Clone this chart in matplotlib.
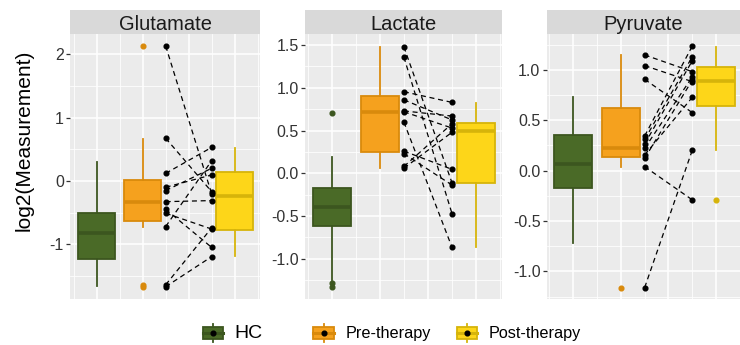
import matplotlib.pyplot as plt
from matplotlib.patches import Patch, Rectangle
from matplotlib.lines import Line2D
from matplotlib.legend_handler import HandlerBase

plt.rcParams['font.family'] = ['Liberation Sans', 'DejaVu Sans']
plt.rcParams['axes.unicode_minus'] = False

# ---- data ----
metabolites = ["Glutamate", "Lactate", "Pyruvate"]
groups = ["HC", "Pre-therapy", "Post-therapy"]
fill_colors = ["#4a6a27", "#f5a11e", "#fdd619"]
edge_colors = ["#3c561f", "#d98a0c", "#d6b40a"]

# box stats per group: whislo, q1, median, q3, whishi
glu_box = [[-1.66, -1.23, -0.826, -0.51, 0.295],
           [-0.72, -0.626, -0.337, 0.01, 0.66],
           [-1.19, -0.77, -0.23, 0.137, 0.516]]
glu_fliers = [[], [2.13, -1.64, -1.67], []]

lac_box = [[-1.25, -0.617, -0.39, -0.176, 0.19],
           [0.06, 0.25, 0.72, 0.91, 1.475],
           [-0.865, -0.113, 0.49, 0.59, 0.82]]
lac_fliers = [[0.70, -1.28, -1.33], [], []]

pyr_box = [[-0.715, -0.175, 0.066, 0.354, 0.73],
           [0.04, 0.132, 0.222, 0.626, 1.15],
           [0.205, 0.642, 0.894, 1.03, 1.23]]
pyr_fliers = [[], [-1.16], [-0.29]]

# paired patients (pre -> post)
glu_pre = [2.13, 0.674, 0.12, -0.10, -0.153, -0.327, -0.447, -0.51, -0.72, -1.64, -1.67]
glu_post = [-0.205, -0.17, 0.53, 0.095, 0.20, -0.31, -1.05, -0.76, 0.32, -0.74, -1.195]
lac_pre = [1.48, 1.36, 0.955, 0.86, 0.73, 0.72, 0.6, 0.26, 0.23, 0.08, 0.06]
lac_post = [-0.11, -0.47, 0.83, 0.625, 0.67, 0.53, -0.865, 0.047, -0.137, 0.58, 0.48]
pyr_pre = [1.149, 1.043, 0.907, 0.345, 0.31, 0.265, 0.222, 0.156, 0.123, 0.04, -1.16]
pyr_post = [0.983, 0.884, 0.576, 1.238, 1.132, 1.092, 0.933, 0.729, 0.90, -0.29, 0.205]

# y ticks
glu_ticks = [-1, 0, 1, 2]
glu_ticklabels = ["-1", "0", "1", "2"]
half_ticks = [-1.0, -0.5, 0.0, 0.5, 1.0, 1.5]
half_ticklabels = ["-1.0", "-0.5", "0.0", "0.5", "1.0", "1.5"]

panels = [
    dict(name="Glutamate", box=glu_box, fliers=glu_fliers, pre=glu_pre, post=glu_post,
         ylim=(-1.864, 2.32), xlim=(0.42, 4.55), ticks=glu_ticks, labels=glu_ticklabels,
         rect=(70, 190)),
    dict(name="Lactate", box=lac_box, fliers=lac_fliers, pre=lac_pre, post=lac_post,
         ylim=(-1.47, 1.63), xlim=(0.444, 4.54), ticks=half_ticks, labels=half_ticklabels,
         rect=(305, 197)),
    dict(name="Pyruvate", box=pyr_box, fliers=pyr_fliers, pre=pyr_pre, post=pyr_post,
         ylim=(-1.274, 1.357), xlim=(0.445, 4.48), ticks=half_ticks[:-1], labels=half_ticklabels[:-1],
         rect=(546.7, 193.3)),
]

W, H = 740, 345
fig = plt.figure(figsize=(W / 100, H / 100), dpi=100)

box_pos = [1, 2, 4]
pair_x = [2.5, 3.5]
panel_top, panel_bot, strip_px = 34, 299, 24

for p in panels:
    left, width = p["rect"]
    ax = fig.add_axes([left / W, (H - panel_bot) / H, width / W, (panel_bot - panel_top) / H])
    ax.set_facecolor("#EBEBEB")
    for s in ax.spines.values():
        s.set_visible(False)
    ax.set_xlim(p["xlim"])
    ax.set_ylim(p["ylim"])

    # grid
    y0, y1 = p["ylim"]
    step = p["ticks"][1] - p["ticks"][0]
    minor_y = [t + step / 2 for t in [p["ticks"][0] - step] + p["ticks"]]
    ax.set_yticks(p["ticks"])
    ax.set_yticklabels(p["labels"])
    ax.set_yticks([m for m in minor_y if y0 < m < y1], minor=True)
    ax.set_xticks([1, 2, 3, 4])
    ax.set_xticks([0.5, 1.5, 2.5, 3.5, 4.5], minor=True)
    ax.grid(which="major", color="white", lw=1.1)
    ax.grid(which="minor", color="white", lw=0.55)
    ax.set_axisbelow(True)
    ax.tick_params(axis="x", which="both", length=0, labelbottom=False)
    ax.tick_params(axis="y", which="minor", length=0)
    ax.tick_params(axis="y", which="major", length=3, width=0.9, color="#333333",
                   labelsize=11.5, labelcolor="#333333", pad=1.5)

    # boxes
    for i in range(3):
        wl, q1, med, q3, wh = p["box"][i]
        stats = [dict(whislo=wl, q1=q1, med=med, q3=q3, whishi=wh, fliers=p["fliers"][i])]
        ax.bxp(stats, positions=[box_pos[i]], widths=0.8, patch_artist=True, showcaps=False,
               boxprops=dict(facecolor=fill_colors[i], edgecolor=edge_colors[i], lw=1.3),
               medianprops=dict(color=edge_colors[i], lw=2.6, solid_capstyle="butt"),
               whiskerprops=dict(color=edge_colors[i], lw=1.3),
               flierprops=dict(marker="o", markerfacecolor=edge_colors[i],
                               markeredgecolor=edge_colors[i], markersize=3.4))

    # paired lines
    for a, b in zip(p["pre"], p["post"]):
        ax.plot(pair_x, [a, b], color="black", lw=0.9, ls=(0, (4, 3)), zorder=4)
    ax.plot([pair_x[0]] * len(p["pre"]), p["pre"], "o", color="black", ms=3.4, zorder=5)
    ax.plot([pair_x[1]] * len(p["post"]), p["post"], "o", color="black", ms=3.4, zorder=5)
    ax.set_xticks([1, 2, 3, 4])

    # facet strip
    sh = strip_px / (panel_bot - panel_top)
    ax.add_patch(Rectangle((0, 1), 1, sh, transform=ax.transAxes, facecolor="#D9D9D9",
                           edgecolor="none", clip_on=False))
    ax.text(0.5, 1 + sh / 2, p["name"], transform=ax.transAxes, ha="center",
            va="center_baseline", fontsize=14.5, color="#1A1A1A")

fig.text(24 / W, 1 - 140 / H, "log2(Measurement)", rotation=90, ha="center", va="center",
         fontsize=15, color="black")


class BoxKey(HandlerBase):
    def create_artists(self, legend, orig, xd, yd, w, h, fs, trans):
        fc = orig.get_facecolor()
        ec = orig.get_edgecolor()
        cx = -xd + w / 2
        cy = -yd + h / 2
        bh = h * 0.64
        whisk = Line2D([cx, cx], [-yd, -yd + h], color=ec, lw=1.3, transform=trans)
        box = Rectangle((-xd, cy - bh / 2), w, bh, facecolor=fc, edgecolor=ec, lw=1.3,
                        transform=trans)
        med = Line2D([-xd, -xd + w], [cy, cy], color=ec, lw=2.2, transform=trans)
        dot = Line2D([cx], [cy], marker="o", ms=3.4, color="black", transform=trans)
        return [whisk, box, med, dot]


handles = [Patch(facecolor=fill_colors[i], edgecolor=edge_colors[i]) for i in range(3)]
leg_kw = dict(loc="center left", frameon=False, borderpad=0, borderaxespad=0,
              handlelength=1.27, handleheight=1.35, handletextpad=0.7,
              handler_map={Patch: BoxKey()}, fontsize=11.7)
leg1 = fig.legend(handles[:1], groups[:1], bbox_to_anchor=(202.7 / W, 1 - 333 / H), **leg_kw)
leg1.get_texts()[0].set_fontsize(14)
fig.legend(handles[1:], groups[1:], bbox_to_anchor=(313.3 / W, 1 - 333 / H), ncol=2,
           columnspacing=1.6, **leg_kw)

fig.savefig("out.png", dpi=100)
